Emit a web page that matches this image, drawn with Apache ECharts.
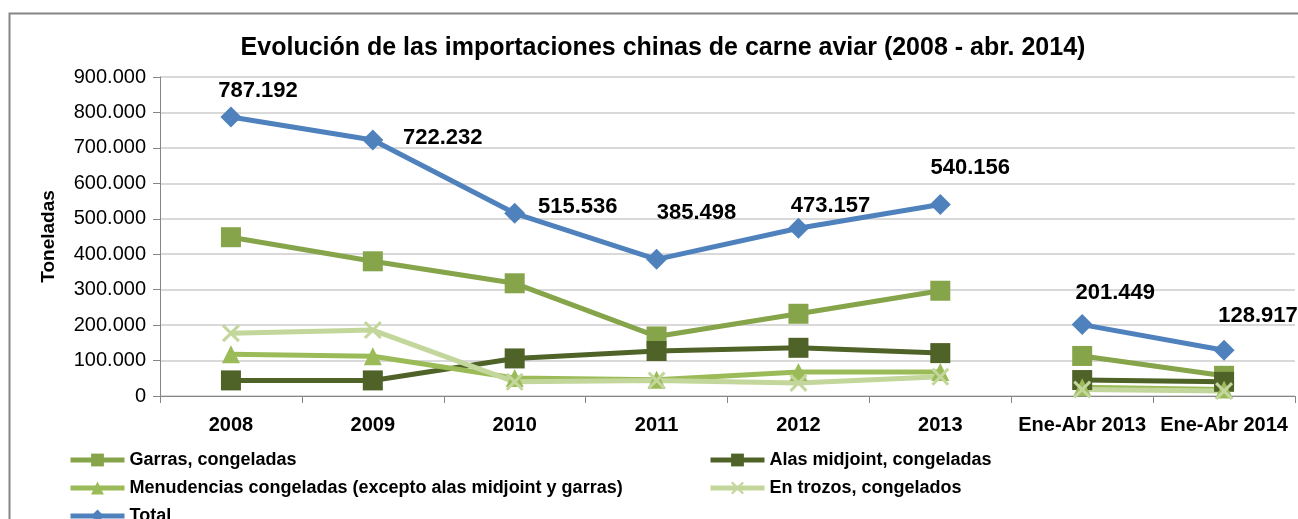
<!DOCTYPE html>
<html>
<head>
<meta charset="utf-8">
<script src="https://cdn.jsdelivr.net/npm/echarts@6/dist/echarts.min.js"></script>
<style>
  html, body { margin: 0; padding: 0; background: #fff; }
  #chart { width: 1298px; height: 519px; }
</style>
</head>
<body>
<div id="chart"></div>
<script>
// categories and values (toneladas)
var categories = ['2008', '2009', '2010', '2011', '2012', '2013', 'Ene-Abr 2013', 'Ene-Abr 2014'];
var yTicks = [0, 100000, 200000, 300000, 400000, 500000, 600000, 700000, 800000, 900000];

var garras = [448000, 380000, 318000, 168000, 232000, 297000, 113000, 57000];
var alas = [44000, 44000, 106000, 127000, 136000, 121000, 45000, 40000];
var menudencias = [118000, 112000, 51000, 46000, 68000, 68000, 25000, 18000];
var trozos = [177000, 186000, 40000, 44000, 37000, 54000, 18000, 14000];
var total = [787192, 722232, 515536, 385498, 473157, 540156, 201449, 128917];

// label offsets for the Total series (labels were placed by hand)
var totalLabelOffsets = [[27, 0], [70, 24], [63, 20], [40, -20], [32, 4], [30, -10], [33, -5], [34, -8]];

var fontFamily = '"Liberation Sans", Arial, sans-serif';

function fmt(v) {
    return String(Math.round(v)).replace(/\B(?=(\d{3})+(?!\d))/g, '.');
}

// each series is drawn in two pieces: years (0-5) and Ene-Abr (6-7)
function split(values, part) {
    return values.map(function (v, i) {
        if (part === 0) return i <= 5 ? v : null;
        return i >= 6 ? v : null;
    });
}

var xSymbol = 'path://M0,1.2 L1.2,0 L5,3.8 L8.8,0 L10,1.2 L6.2,5 L10,8.8 L8.8,10 L5,6.2 L1.2,10 L0,8.8 L3.8,5 Z';

var defs = [
    { name: 'Garras, congeladas', data: garras, color: '#86A44A', symbol: 'rect', size: 20 },
    { name: 'Alas midjoint, congeladas', data: alas, color: '#4F6228', symbol: 'rect', size: 20 },
    { name: 'Menudencias congeladas (excepto alas midjoint y garras)', data: menudencias, color: '#9BBB59', symbol: 'triangle', size: 18 },
    { name: 'En trozos, congelados', data: trozos, color: '#C3D69B', symbol: xSymbol, size: 18 },
    { name: 'Total', data: total, color: '#4F81BD', symbol: 'diamond', size: 21 }
];

// legend placement: [left, top] for each entry
var legendPos = [[68, 451], [708, 451], [68, 479], [708, 479], [68, 507]];

var seriesArr = [];
defs.forEach(function (d) {
    [0, 1].forEach(function (part) {
        var vals = split(d.data, part);
        var s = {
            name: d.name,
            type: 'line',
            data: vals,
            symbol: d.symbol,
            symbolSize: d.size,
            showAllSymbol: true,
            connectNulls: false,
            z: d.name === 'Total' ? 5 : 3,
            itemStyle: { color: d.color },
            lineStyle: { color: d.color, width: 5 },
            emphasis: { disabled: true },
            animation: false
        };
        if (d.name === 'Total') {
            s.data = vals.map(function (v, i) {
                if (v === null) return null;
                return {
                    value: v,
                    label: {
                        show: true,
                        position: 'top',
                        offset: totalLabelOffsets[i],
                        formatter: function (p) { return fmt(p.value); },
                        fontFamily: fontFamily,
                        fontWeight: 'bold',
                        fontSize: 22,
                        color: '#000'
                    }
                };
            });
        }
        seriesArr.push(s);
    });
});

var legends = defs.map(function (d, i) {
    return {
        left: legendPos[i][0],
        top: legendPos[i][1],
        padding: 0,
        itemWidth: 54,
        itemHeight: 16,
        data: [d.name],
        selectedMode: false,
        lineStyle: { width: 5 },
        textStyle: {
            fontFamily: fontFamily,
            fontWeight: 'bold',
            fontSize: 18,
            color: '#000'
        }
    };
});

var option = {
    backgroundColor: '#fff',
    animation: false,
    title: {
        text: 'Evolución de las importaciones chinas de carne aviar (2008 - abr. 2014)',
        left: 658,
        textAlign: 'center',
        top: 31,
        textStyle: {
            fontFamily: fontFamily,
            fontWeight: 'bold',
            fontSize: 25,
            color: '#000'
        }
    },
    legend: legends,
    grid: {
        left: 160,
        right: 3,
        top: 77,
        bottom: 123
    },
    xAxis: {
        type: 'category',
        data: categories,
        boundaryGap: true,
        axisLine: { lineStyle: { color: '#868686', width: 1 } },
        axisTick: { show: true, alignWithLabel: false, length: 7, lineStyle: { color: '#868686' } },
        axisLabel: {
            interval: 0,
            margin: 19,
            fontFamily: fontFamily,
            fontWeight: 'bold',
            fontSize: 20,
            color: '#000'
        },
        splitLine: { show: false }
    },
    yAxis: {
        type: 'value',
        min: yTicks[0],
        max: yTicks[yTicks.length - 1],
        interval: yTicks[1] - yTicks[0],
        name: 'Toneladas',
        nameLocation: 'middle',
        nameGap: 102,
        nameRotate: 90,
        nameTextStyle: {
            fontFamily: fontFamily,
            fontWeight: 'bold',
            fontSize: 19,
            color: '#000'
        },
        axisLine: { show: true, lineStyle: { color: '#868686', width: 1 } },
        axisTick: { show: true, length: 7, lineStyle: { color: '#868686' } },
        axisLabel: {
            margin: 14,
            formatter: function (v) { return fmt(v); },
            fontFamily: fontFamily,
            fontSize: 20,
            color: '#000'
        },
        splitLine: { show: true, lineStyle: { color: '#D9D9D9', width: 2 } }
    },
    graphic: [{
        type: 'rect',
        shape: { x: 9.5, y: 13.5, width: 1300, height: 520 },
        style: { fill: null, stroke: '#868686', lineWidth: 2 },
        silent: true,
        z: -1
    }],
    series: seriesArr
};

var myChart = echarts.init(document.getElementById('chart'));
myChart.setOption(option);
</script>
</body>
</html>
